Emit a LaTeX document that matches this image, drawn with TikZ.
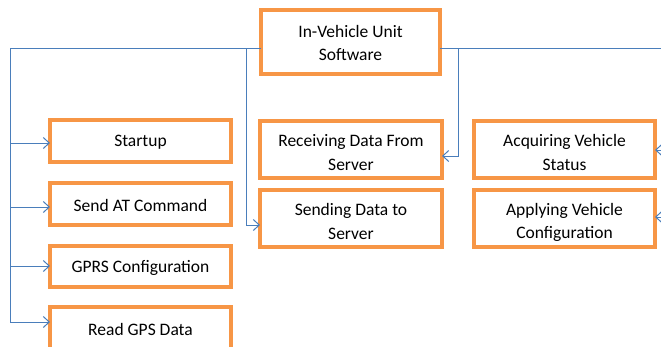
\documentclass[tikz,border=0pt]{standalone}
\usepackage{fontspec}
\setmainfont{Carlito}
\usetikzlibrary{arrows.meta}
\definecolor{boxorange}{HTML}{F79646}
\definecolor{linkblue}{HTML}{4A7EBB}
\begin{document}
\begin{tikzpicture}[x=1pt,y=-1pt,
  box/.style={draw=boxorange,line width=3.2pt,fill=white,inner sep=0pt},
  txt/.style={align=center,inner sep=0pt,font=\fontsize{17.5}{23.5}\selectfont},
  conn/.style={draw=linkblue,line width=1pt},
  arr/.style={conn,-{Straight Barb[length=6pt,width=11pt]}}]
\useasboundingbox (0,0) rectangle (661,346);
\fill[white] (0,0) rectangle (661,346);
% boxes
\node[box,minimum width=179pt,minimum height=64pt] (top) at (350.5,42) {};
\node[box,minimum width=181pt,minimum height=42pt] (startup) at (140.5,141) {};
\node[box,minimum width=181pt,minimum height=42pt] (sendat) at (140.5,204) {};
\node[box,minimum width=181pt,minimum height=41pt] (gprs) at (140.5,266.5) {};
\node[box,minimum width=181pt,minimum height=42pt] (gps) at (140.5,328) {};
\node[box,minimum width=182pt,minimum height=57pt] (recv) at (351,149.5) {};
\node[box,minimum width=182pt,minimum height=57pt] (send) at (351,218.5) {};
\node[box,minimum width=181pt,minimum height=57pt] (acq) at (564.5,149.5) {};
\node[box,minimum width=181pt,minimum height=57pt] (apply) at (564.5,218.5) {};
% texts
\node[txt] (ttop) at ([yshift=-1pt]top.center) {In-Vehicle Unit\\Software};
\node[txt] (tstartup) at ([yshift=-1.5pt]startup.center) {Startup};
\node[txt] (tsendat) at ([yshift=-1.5pt]sendat.center) {Send AT Command};
\node[txt] (tgprs) at ([yshift=-1.5pt]gprs.center) {GPRS Configuration};
\node[txt] (tgps) at ([yshift=-1pt]gps.center) {Read GPS Data};
\node[txt] (trecv) at ([yshift=-3pt]recv.center) {Receiving Data From\\Server};
\node[txt] (tsend) at ([yshift=-3pt]send.center) {Sending Data to\\Server};
\node[txt] (tacq) at ([yshift=-3pt]acq.center) {Acquiring Vehicle\\Status};
\node[txt] (tapply) at ([yshift=-4pt]apply.center) {Applying Vehicle\\Configuration};
% coordinates
\coordinate (tl) at (261,48);
\coordinate (tr) at (440,48);
\coordinate (lc) at (10.5,48);
\coordinate (mc) at (246,48);
\coordinate (rc) at (458,48);
\coordinate (re) at (661,48);
\coordinate (a1) at (50,143);
\coordinate (a2) at (50,207);
\coordinate (a3) at (50,266);
\coordinate (a4) at (50,322);
\coordinate (a5) at (260,225);
\coordinate (a6) at (442,156);
\coordinate (e1) at (661,150);
\coordinate (e1t) at (655,150);
\coordinate (e2) at (661,217);
\coordinate (e2t) at (655,217);
% connectors
\draw[conn] (tl) -- (lc);
\draw[conn] (tr) -- (re);
\draw[arr] (lc) |- (a4);
\draw[arr] (lc |- a1) -- (a1);
\draw[arr] (lc |- a2) -- (a2);
\draw[arr] (lc |- a3) -- (a3);
\draw[arr] (mc) |- (a5);
\draw[arr] (rc) |- (a6);
\draw[arr] (e1) -- (e1t);
\draw[arr] (e2) -- (e2t);
\end{tikzpicture}
\end{document}
